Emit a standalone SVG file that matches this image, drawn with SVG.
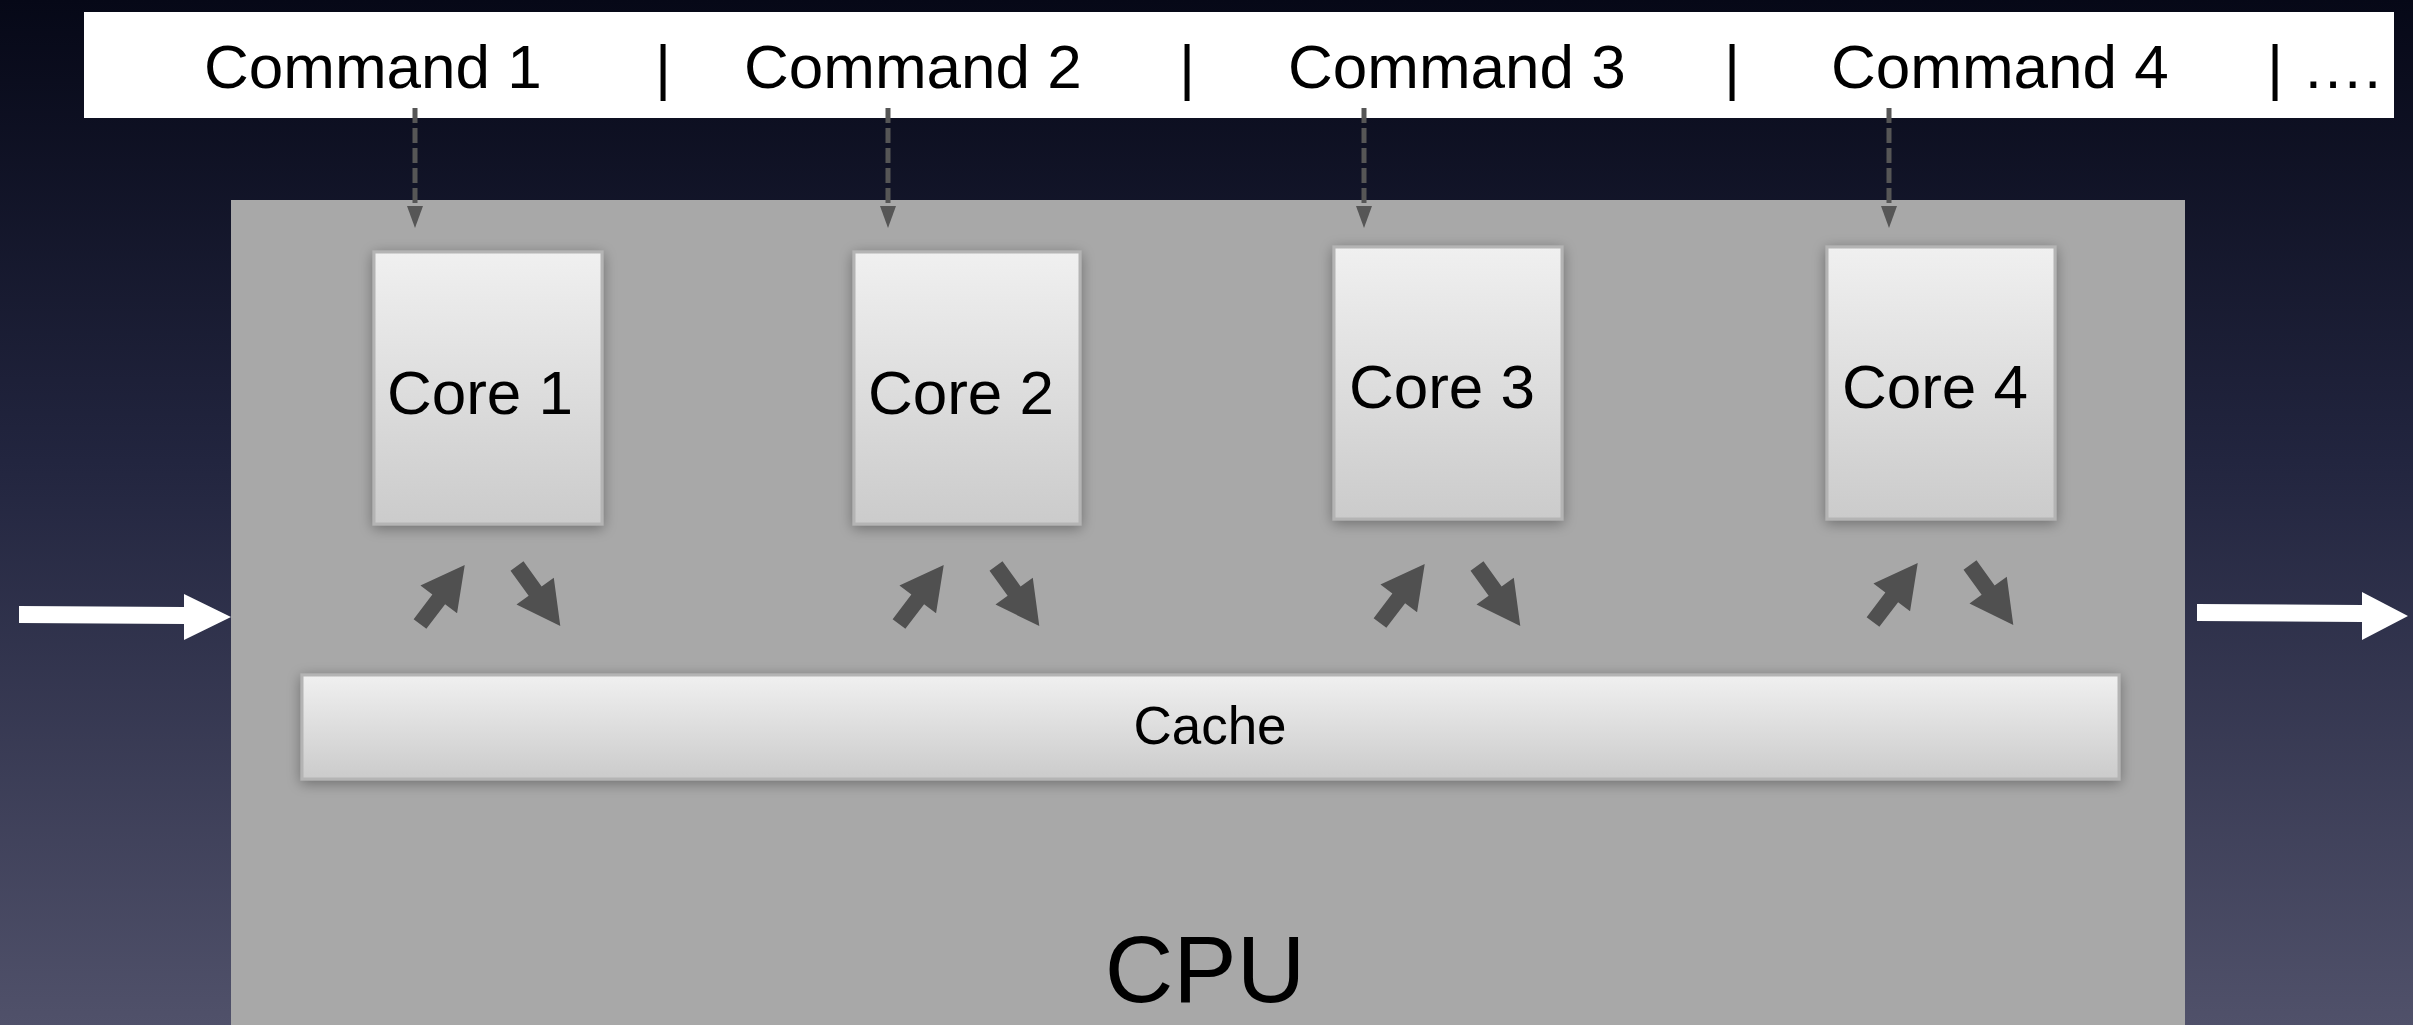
<svg xmlns="http://www.w3.org/2000/svg" width="2413" height="1025" viewBox="0 0 2413 1025">
  <defs>
    <linearGradient id="bg" x1="0" y1="0" x2="0" y2="1">
      <stop offset="0" stop-color="#060817"/>
      <stop offset="0.45" stop-color="#22253f"/>
      <stop offset="1" stop-color="#50516a"/>
    </linearGradient>
    <linearGradient id="boxg" x1="0" y1="0" x2="0" y2="1">
      <stop offset="0" stop-color="#f0f0f0"/>
      <stop offset="1" stop-color="#cbcbcb"/>
    </linearGradient>
    <filter id="shadow" x="-20%" y="-20%" width="140%" height="140%">
      <feGaussianBlur in="SourceAlpha" stdDeviation="7"/>
      <feOffset dx="0" dy="3" result="b"/>
      <feComponentTransfer><feFuncA type="linear" slope="0.35"/></feComponentTransfer>
      <feMerge><feMergeNode/><feMergeNode in="SourceGraphic"/></feMerge>
    </filter>
    <path id="fat" d="M0,-8 L31,-8 L31,-23 L74,0 L31,23 L31,8 L0,8 Z"/>
  </defs>
  <style>
    .t { font-family: "Liberation Sans", Arial, sans-serif; fill: #000; }
    .cmd { font-size: 62px; }
    .core { font-size: 62px; text-anchor: middle; }
    .box { fill: url(#boxg); stroke: #b4b4b4; stroke-width: 3; filter: url(#shadow); }
    .dash { stroke: #565656; stroke-width: 5; stroke-dasharray: 15 5; fill: none; }
    .head { fill: #565656; }
    .fat { fill: #505050; }
  </style>

  <rect x="0" y="0" width="2413" height="1025" fill="url(#bg)"/>

  <g id="command-bar">
    <rect x="84" y="12" width="2310" height="106" fill="#ffffff"/>
    <text class="t cmd" x="204" y="88">Command 1</text>
    <text class="t cmd" x="663" y="88" text-anchor="middle">|</text>
    <text class="t cmd" x="744" y="88">Command 2</text>
    <text class="t cmd" x="1187" y="88" text-anchor="middle">|</text>
    <text class="t cmd" x="1288" y="88">Command 3</text>
    <text class="t cmd" x="1732" y="88" text-anchor="middle">|</text>
    <text class="t cmd" x="1831" y="88">Command 4</text>
    <text class="t cmd" x="2275" y="88" text-anchor="middle">|</text>
    <text class="t cmd" x="2302" y="88">….</text>
  </g>

  <g id="cpu">
    <rect x="231" y="200" width="1954" height="840" fill="#a8a8a8"/>
    <text class="t" x="1205" y="1002" font-size="95" text-anchor="middle">CPU</text>
  </g>

  <g id="core1">
    <rect class="box" x="374" y="252" width="228" height="272"/>
    <text class="t core" x="480" y="414">Core 1</text>
  </g>
  <g id="core2">
    <rect class="box" x="854" y="252" width="226" height="272"/>
    <text class="t core" x="961" y="414">Core 2</text>
  </g>
  <g id="core3">
    <rect class="box" x="1334" y="247" width="228" height="272"/>
    <text class="t core" x="1442" y="408">Core 3</text>
  </g>
  <g id="core4">
    <rect class="box" x="1827" y="247" width="228" height="272"/>
    <text class="t core" x="1935" y="408">Core 4</text>
  </g>

  <g id="cache">
    <rect class="box" x="302" y="675" width="1817" height="104"/>
    <text class="t" x="1210" y="744" font-size="53" text-anchor="middle">Cache</text>
  </g>

  <g id="connectors">
    <line class="dash" x1="415" y1="108" x2="415" y2="208"/>
    <polygon class="head" points="407,206 423,206 415,228"/>
    <line class="dash" x1="888" y1="108" x2="888" y2="208"/>
    <polygon class="head" points="880,206 896,206 888,228"/>
    <line class="dash" x1="1364" y1="108" x2="1364" y2="208"/>
    <polygon class="head" points="1356,206 1372,206 1364,228"/>
    <line class="dash" x1="1889" y1="108" x2="1889" y2="208"/>
    <polygon class="head" points="1881,206 1897,206 1889,228"/>

    <use href="#fat" class="fat" transform="translate(420,624) rotate(-52.8)"/>
    <use href="#fat" class="fat" transform="translate(517,566) rotate(54.2)"/>
    <use href="#fat" class="fat" transform="translate(899,624) rotate(-52.8)"/>
    <use href="#fat" class="fat" transform="translate(996,566) rotate(54.2)"/>
    <use href="#fat" class="fat" transform="translate(1380,623) rotate(-52.8)"/>
    <use href="#fat" class="fat" transform="translate(1477,566) rotate(54.2)"/>
    <use href="#fat" class="fat" transform="translate(1873,622) rotate(-52.8)"/>
    <use href="#fat" class="fat" transform="translate(1970,565) rotate(54.2)"/>

    <polygon fill="#ffffff" points="19,606 184,607 184,594 231,617 184,640 184,624 19,623"/>
    <polygon fill="#ffffff" points="2197,604 2362,605 2362,592 2408,616 2362,640 2362,622 2197,621"/>
  </g>
</svg>
